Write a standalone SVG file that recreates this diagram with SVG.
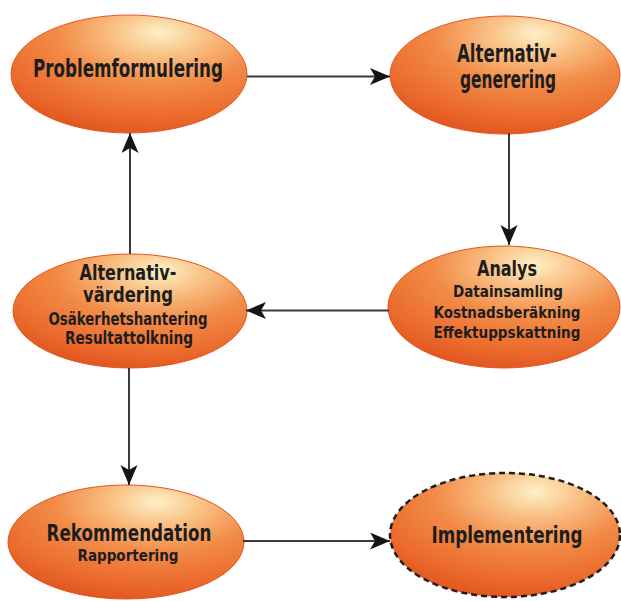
<svg xmlns="http://www.w3.org/2000/svg" width="621" height="601" viewBox="0 0 621 601">
<defs>
<radialGradient id="og" cx="0.63" cy="0.15" r="0.9" fx="0.63" fy="0.15">
<stop offset="0" stop-color="#fdf1c6"/>
<stop offset="0.22" stop-color="#f9c084"/>
<stop offset="0.48" stop-color="#f28c48"/>
<stop offset="0.8" stop-color="#eb6a2c"/>
<stop offset="1" stop-color="#e0521e"/>
</radialGradient>
<marker id="ah" markerUnits="userSpaceOnUse" markerWidth="22" markerHeight="18" refX="20" refY="8.5" orient="auto" viewBox="0 0 22 18">
<path d="M0,0 L20,8.5 L0,17 L5,8.5 Z" fill="#151515"/>
</marker>
<style>
.node{fill:url(#og);stroke:#e2581f;stroke-width:1}
.dash{fill:url(#og);stroke:#1e1e1e;stroke-width:2.5;stroke-dasharray:6 4}
.t{font-family:"Liberation Sans Narrow","DejaVu Sans Condensed","Liberation Sans",sans-serif;font-weight:bold;fill:#1d1d1d;text-anchor:middle}
.conn{stroke:#3a3a3a;stroke-width:2;fill:none;marker-end:url(#ah)}
</style>
</defs>
<rect width="621" height="601" fill="#ffffff"/>
<g id="n1">
<ellipse class="node" cx="129" cy="74" rx="118" ry="59"/>
<text class="t" x="128" y="77" font-size="25" textLength="190" lengthAdjust="spacingAndGlyphs">Problemformulering</text>
</g>
<g id="n2">
<ellipse class="node" cx="505" cy="75" rx="115" ry="59"/>
<text class="t" x="507" y="62" font-size="24" textLength="100" lengthAdjust="spacingAndGlyphs">Alternativ-</text>
<text class="t" x="508" y="88" font-size="24" textLength="96" lengthAdjust="spacingAndGlyphs">generering</text>
</g>
<g id="n3">
<ellipse class="node" cx="130" cy="311" rx="117" ry="57"/>
<text class="t" x="128" y="280" font-size="21" textLength="97" lengthAdjust="spacingAndGlyphs">Alternativ-</text>
<text class="t" x="128" y="302" font-size="21" textLength="90" lengthAdjust="spacingAndGlyphs">värdering</text>
<text class="t" x="128" y="325" font-size="17" textLength="159" lengthAdjust="spacingAndGlyphs">Osäkerhetshantering</text>
<text class="t" x="129" y="344" font-size="17" textLength="128" lengthAdjust="spacingAndGlyphs">Resultattolkning</text>
</g>
<g id="n4">
<ellipse class="node" cx="504" cy="307" rx="116" ry="61"/>
<text class="t" x="507" y="276" font-size="22" textLength="60" lengthAdjust="spacingAndGlyphs">Analys</text>
<text class="t" x="508" y="297" font-size="16.5" textLength="110" lengthAdjust="spacingAndGlyphs">Datainsamling</text>
<text class="t" x="507" y="318" font-size="16.5" textLength="147" lengthAdjust="spacingAndGlyphs">Kostnadsberäkning</text>
<text class="t" x="507" y="338" font-size="16.5" textLength="147" lengthAdjust="spacingAndGlyphs">Effektuppskattning</text>
</g>
<g id="n5">
<ellipse class="node" cx="126" cy="542" rx="118" ry="57"/>
<text class="t" x="129" y="541" font-size="23" textLength="165" lengthAdjust="spacingAndGlyphs">Rekommendation</text>
<text class="t" x="128" y="561" font-size="16" textLength="101" lengthAdjust="spacingAndGlyphs">Rapportering</text>
</g>
<g id="n6">
<ellipse class="dash" cx="505" cy="535" rx="115" ry="62"/>
<text class="t" x="507" y="543" font-size="23.5" textLength="151" lengthAdjust="spacingAndGlyphs">Implementering</text>
</g>
<g id="connectors">
<path class="conn" d="M247,76.5 H390"/>
<path class="conn" d="M509,133 V245"/>
<path class="conn" d="M389,310.5 H246"/>
<path class="conn" d="M130,254 V133"/>
<path class="conn" d="M129,368 V485"/>
<path class="conn" d="M243,541 H390"/>
</g>
</svg>
